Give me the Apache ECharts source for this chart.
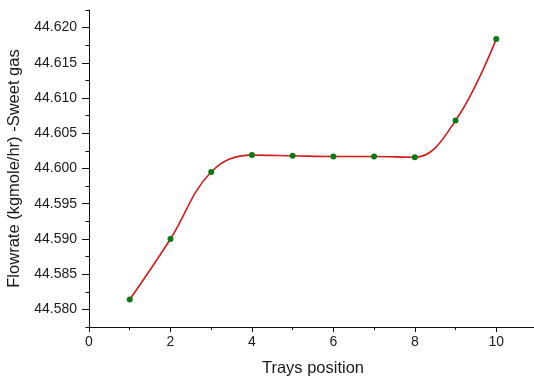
<!DOCTYPE html>
<html>
<head>
<meta charset="utf-8">
<script src="https://cdn.jsdelivr.net/npm/echarts@6/dist/echarts.min.js"></script>
<style>
  html, body { margin: 0; padding: 0; background: #fff; }
  #chart { width: 534px; height: 376px; }
</style>
</head>
<body>
<div id="chart"></div>
<script>
// trays and flowrate
const trays = [1, 2, 3, 4, 5, 6, 7, 8, 9, 10];
const flowrate = [44.5814, 44.5900, 44.5995, 44.6019, 44.6018, 44.6017, 44.6017, 44.6016, 44.6068, 44.6184];

const xMajorTicks = [0, 2, 4, 6, 8, 10];
const yMajorTicks = [44.580, 44.585, 44.590, 44.595, 44.600, 44.605, 44.610, 44.615, 44.620];
const yMinorTicks = [44.5775, 44.5825, 44.5875, 44.5925, 44.5975, 44.6025, 44.6075, 44.6125, 44.6175, 44.6225];

const X_MIN = 0, X_MAX = 11;
const Y_MIN = 44.5775, Y_MAX = 44.6225;

const font = 'Liberation Sans, Arial, sans-serif';
const axisColor = '#111';
const textColor = '#1a1a1a';

const chart = echarts.init(document.getElementById('chart'));

const option = {
  animation: false,
  // right edge runs just past the canvas, as in the original plot
  grid: { left: 89, right: -3, top: 10, bottom: 49, outerBoundsMode: 'none', containLabel: false },
  xAxis: {
    type: 'value',
    min: X_MIN,
    max: X_MAX,
    interval: 2,
    name: 'Trays position',
    nameLocation: 'middle',
    nameGap: 33,
    nameTextStyle: { fontFamily: font, fontSize: 16.5, color: textColor },
    axisLine: { show: true, onZero: false, lineStyle: { color: axisColor, width: 1 } },
    axisTick: { show: true, inside: false, length: 5, customValues: xMajorTicks, lineStyle: { color: axisColor } },
    minorTick: { show: true, splitNumber: 2, length: 3, lineStyle: { color: axisColor } },
    axisLabel: {
      customValues: xMajorTicks,
      margin: 8,
      fontFamily: font, fontSize: 14, color: textColor
    },
    splitLine: { show: false },
    minorSplitLine: { show: false }
  },
  yAxis: [{
    type: 'value',
    min: Y_MIN,
    max: Y_MAX,
    name: 'Flowrate (kgmole/hr) -Sweet gas',
    nameLocation: 'middle',
    nameGap: 62,
    nameTextStyle: { fontFamily: font, fontSize: 16.5, color: textColor },
    axisLine: { show: true, onZero: false, lineStyle: { color: axisColor, width: 1 } },
    axisTick: { show: true, inside: false, length: 7, customValues: yMajorTicks, lineStyle: { color: axisColor } },
    axisLabel: {
      customValues: yMajorTicks,
      margin: 12,
      fontFamily: font, fontSize: 14, color: textColor,
      formatter: (v) => v.toFixed(3)
    },
    splitLine: { show: false }
  }, {
    type: 'value',
    min: Y_MIN,
    max: Y_MAX,
    position: 'left',
    offset: 0,
    axisLine: { show: false, onZero: false },
    axisTick: { show: true, inside: false, length: 3.5, customValues: yMinorTicks, lineStyle: { color: axisColor } },
    axisLabel: { show: false },
    splitLine: { show: false }
  }],
  series: [{
    type: 'line',
    yAxisIndex: 0,
    data: trays.map((t, i) => [t, flowrate[i]]),
    smooth: 0.4,
    lineStyle: { color: '#d41a1a', width: 1.6 },
    symbol: 'circle',
    symbolSize: 6,
    itemStyle: { color: '#0b7a12' }
  }]
};

chart.setOption(option);
</script>
</body>
</html>
